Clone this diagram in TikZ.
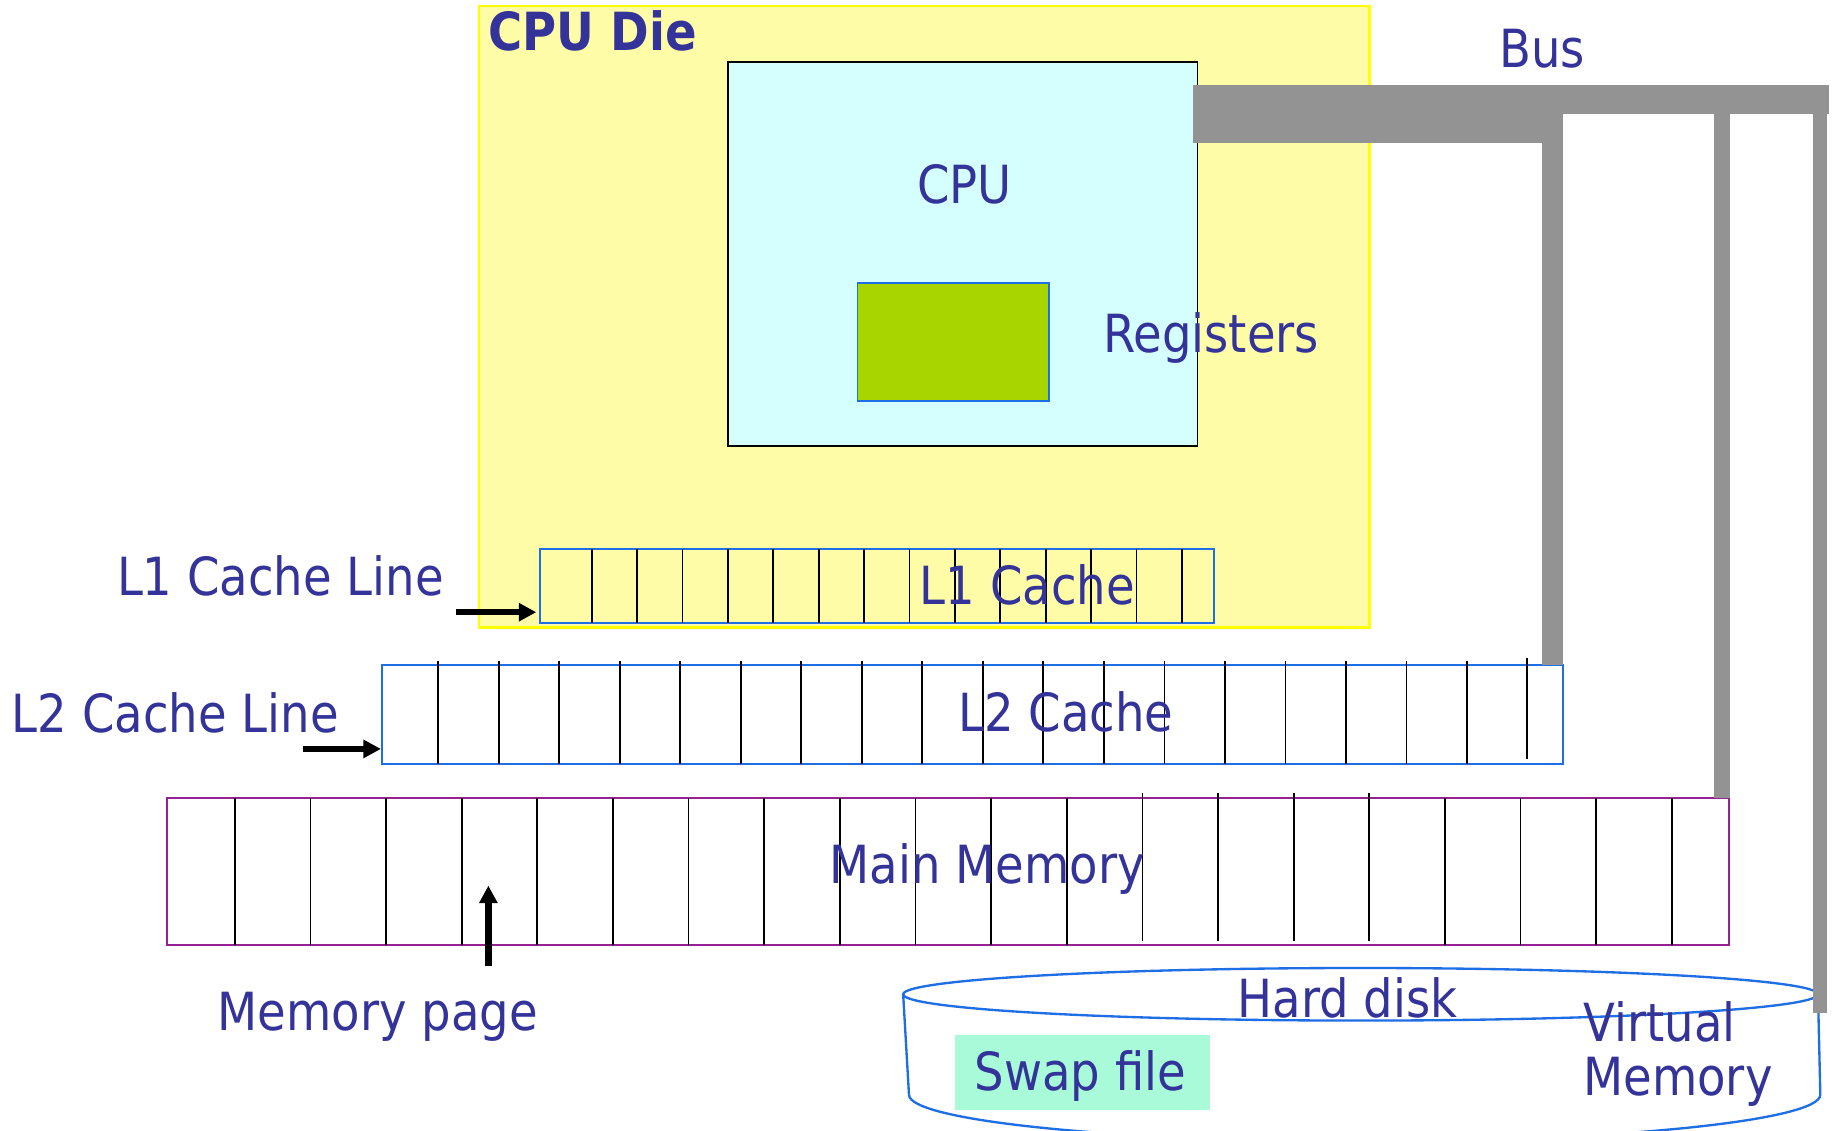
\documentclass[tikz,border=0pt]{standalone}
\usepackage{fontspec}
\setmainfont{DejaVu Sans}[FakeStretch=0.885]
\usetikzlibrary{arrows.meta}
\definecolor{labelblue}{RGB}{51,51,153}
\definecolor{diefill}{RGB}{255,252,168}
\definecolor{dieedge}{RGB}{255,255,0}
\definecolor{cpufill}{RGB}{213,255,255}
\definecolor{regfill}{RGB}{168,212,0}
\definecolor{cacheedge}{RGB}{30,110,230}
\definecolor{memedge}{RGB}{148,34,148}
\definecolor{busgray}{RGB}{147,147,147}
\definecolor{swapfill}{RGB}{168,250,216}
\tikzset{
  block/.style={inner sep=0pt, outer sep=0pt, anchor=north west},
  lbl/.style={text=labelblue, font=\fontsize{45}{54}\selectfont, inner sep=0pt, anchor=base west},
  cell/.style={line width=1.5pt, black},
  pointer/.style={line width=5.5pt, black, -{Triangle[length=15pt,width=15pt]}},
  bus/.style={fill=busgray, draw=none},
  disk/.style={draw=cacheedge, line width=2pt}
}
\begin{document}
\begin{tikzpicture}[x=1pt,y=-1pt]
\useasboundingbox[fill=white] (0,0) rectangle (1568,968);

% CPU die with the processor core and its registers
\node[block, draw=dieedge, fill=diefill, line width=2pt,
      minimum width=762pt, minimum height=532pt] (die) at (410,5) {};
\node[lbl, font=\bfseries\fontsize{45}{54}\selectfont] (dielbl) at (418,43) {CPU Die};
\node[block, draw=black, fill=cpufill, line width=1.5pt,
      minimum width=402pt, minimum height=329pt] (cpu) at (623,53) {};
\node[lbl] (cpulbl) at (785,174) {CPU};
\node[block, draw=cacheedge, fill=regfill, line width=1.5pt,
      minimum width=164pt, minimum height=101pt] (reg) at (734,242) {};
\node[lbl] (reglbl) at (944,302) {Registers};

% L1 cache and its lines
\node[block, draw=cacheedge, line width=2pt,
      minimum width=577pt, minimum height=63pt] (l1) at (462,470) {};
\foreach \k in {0,...,13}
  \draw[cell] ({506.5+38.85*\k},470) -- ({506.5+38.85*\k},533);
\node[lbl] (l1lbl) at (787,517) {L1 Cache};
\node[lbl] (l1line) at (100,510) {L1 Cache Line};
\coordinate (l1tail) at (390,524);
\draw[pointer, shorten >=3pt] (l1tail) -- (l1tail -| l1.west);

% L2 cache and its lines
\node[block, draw=cacheedge, line width=2pt,
      minimum width=1011pt, minimum height=85pt] (l2) at (327,569) {};
\foreach \k in {0,...,17}
  \draw[cell] ({375+51.8*\k},566) -- ({375+51.8*\k},654);
\draw[cell] (1307,563) -- (1307,650);
\node[lbl] (l2lbl) at (820,626) {L2 Cache};
\node[lbl] (l2line) at (10,627) {L2 Cache Line};
\coordinate (l2tail) at (259,641);
\draw[pointer, shorten >=1pt] (l2tail) -- (l2tail -| l2.west);

% Main memory split into pages
\node[block, draw=memedge, line width=2pt,
      minimum width=1337pt, minimum height=126pt] (mem) at (143,683) {};
\foreach \k in {0,...,11,16,17,18,19}
  \draw[cell] ({201+64.73*\k},683) -- ({201+64.73*\k},809);
\foreach \k in {12,...,15}
  \draw[cell] ({201+64.73*\k},679) -- ({201+64.73*\k},805);
\node[lbl] (memlbl) at (710,756) {Main Memory};
\coordinate (pagetail) at (418,827);
\coordinate (pagehead) at (418,758);
\draw[pointer] (pagetail) -- (pagehead);
\node[lbl] (pagelbl) at (186,882) {Memory page};

% Hard disk drawn as a cylinder
\draw[disk] (1164.5,851) ellipse [x radius=391.5pt, y radius=22.5pt];
\draw[disk] (773,851) -- (778,937);
\draw[disk] (1556,851) -- (1558,937);
\draw[disk] (778,937) arc[start angle=180, end angle=360, x radius=390pt, y radius=40pt];
\node[lbl] (disklbl) at (1059,871) {Hard disk};
\node[block, fill=swapfill, minimum width=219pt, minimum height=64pt] (swap) at (817,886) {};
\node[lbl] (swaplbl) at (834,933) {Swap file};
\node[lbl] (vm1) at (1355,891) {Virtual};
\node[lbl] (vm2) at (1355,938) {Memory};

% System bus with its taps
\fill[bus] (1021,73) rectangle (1565,98);
\fill[bus] (1021,88) rectangle (1338,122);
\fill[bus] (1320,98) rectangle (1338,569);
\fill[bus] (1467,98) rectangle (1481,683);
\fill[bus] (1552,85) rectangle (1564,867);
\node[lbl] (buslbl) at (1283,58) {Bus};
\end{tikzpicture}
\end{document}
